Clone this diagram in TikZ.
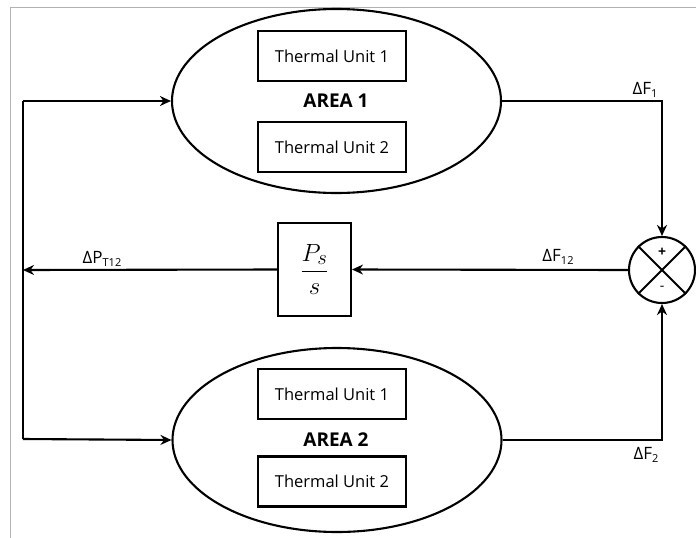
\documentclass[tikz,border=0pt]{standalone}
\usepackage{fontspec}
\setmainfont{Open Sans}
\usetikzlibrary{arrows.meta,shapes.geometric}
\newcommand\sbx[1]{\raisebox{-2.5pt}{\fontsize{11}{11}\selectfont #1}}
\begin{document}
\begin{tikzpicture}[x=1pt,y=-1pt,
  line width=2.1pt,
  arr/.style={-{Stealth[length=11pt,width=10pt]}},
  area/.style={draw, ellipse, minimum width=329pt, minimum height=184pt, inner sep=0pt},
  unit/.style={draw, minimum width=148pt, minimum height=50pt, inner sep=0pt, font=\fontsize{16.5}{18}\selectfont},
  areatitle/.style={font=\fontsize{19}{21}\selectfont\bfseries, inner sep=0pt},
  sig/.style={font=\fontsize{17}{19}\selectfont, inner sep=0pt},
  gainbox/.style={draw, minimum width=73pt, minimum height=93pt, inner sep=0pt},
  sumnode/.style={draw, circle, minimum size=66pt, inner sep=0pt},
  frame/.style={draw=black!30, line width=1pt}
]
\useasboundingbox (0,0) rectangle (696,538);
\fill[white] (0,0) rectangle (696,538);
\draw[frame] (10,538) -- (10,7) -- (696,7);

% Area 1
\node[area] (a1) at (336.5,101) {};
\node[unit] (t11) at (332,56) {Thermal Unit 1};
\node[areatitle] (l1) at (336,101) {AREA 1};
\node[unit] (t12) at (332,147) {Thermal Unit 2};

% Area 2
\node[area] (a2) at (337,440) {};
\node[unit] (t21) at (332,394) {Thermal Unit 1};
\node[areatitle] (l2) at (336,440) {AREA 2};
\node[unit] (t22) at (332,481.5) {Thermal Unit 2};

% summing junction
\node[sumnode] (sum) at (662,270) {};
\draw (sum.north west) -- (sum.south east);
\draw (sum.north east) -- (sum.south west);
\node[font=\fontsize{14}{14}\selectfont\bfseries, inner sep=0pt] (plus) at (662,252) {+};
\node[font=\fontsize{14}{14}\selectfont, inner sep=0pt] (minus) at (662,288) {-};

% gain block
\node[gainbox] (g) at (314.5,269.5) {\fontsize{24.88}{28}\selectfont$\displaystyle\frac{P_s}{s}$};

% connectors
\coordinate (jt) at (23,101);
\coordinate (jm) at (23,270);
\coordinate (jb) at (23,439);
\draw[arr] (a1.east) -| (sum.north);
\draw[arr] (a2.east) -| (sum.south);
\draw[arr] (sum.west) -- (g.east);
\draw[arr] (g.west) -- (jm);
\draw (jt) -- (jb);
\draw[arr] (jt) -- (a1.west);
\draw[arr] (jb) -- (a2.west);

% labels
\node[sig] (lf1) at (645,90) {ΔF\sbx{1}};
\node[sig] (lf2) at (646,455) {ΔF\sbx{2}};
\node[sig] (lf12) at (558,257) {ΔF\sbx{12}};
\node[sig] (lpt) at (102,259) {ΔP\sbx{T12}};
\end{tikzpicture}
\end{document}
